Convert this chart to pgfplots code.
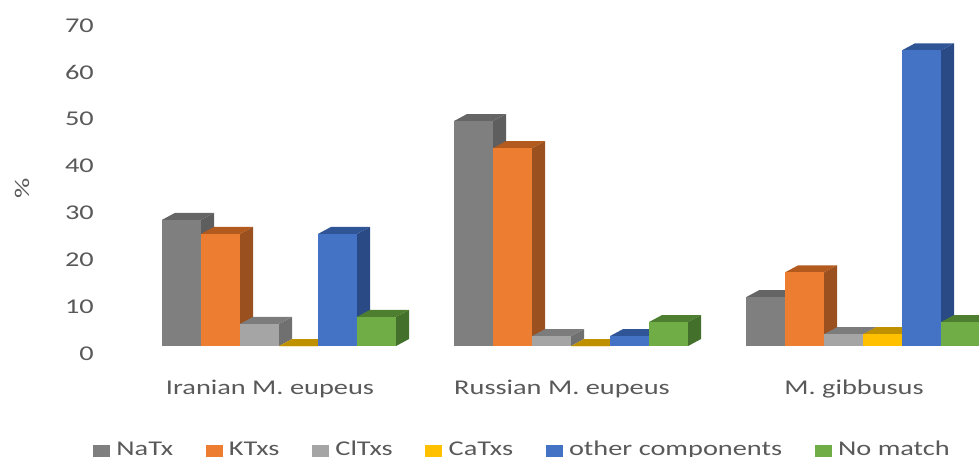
\documentclass[border=0pt]{standalone}
\usepackage{fontspec}
\setmainfont[FakeStretch=1.35]{Carlito}
\usepackage{pgfplots}
\pgfplotsset{compat=1.18}

\definecolor{txt}{HTML}{595959}
\definecolor{grayF}{HTML}{7F7F7F}\definecolor{grayS}{HTML}{5E5E5E}\definecolor{grayT}{HTML}{656565}
\definecolor{oranF}{HTML}{ED7D31}\definecolor{oranS}{HTML}{9A501F}\definecolor{oranT}{HTML}{B35A1F}
\definecolor{ltF}{HTML}{A5A5A5}\definecolor{ltS}{HTML}{707070}\definecolor{ltT}{HTML}{7C7C7C}
\definecolor{goldF}{HTML}{FFC000}\definecolor{goldS}{HTML}{A67C00}\definecolor{goldT}{HTML}{BF9000}
\definecolor{blueF}{HTML}{4472C4}\definecolor{blueS}{HTML}{2A4A85}\definecolor{blueT}{HTML}{2F5597}
\definecolor{grnF}{HTML}{70AD47}\definecolor{grnS}{HTML}{43702A}\definecolor{grnT}{HTML}{4E7F30}

% base of the bars sits a little above the 0 label, depth is the fake 3d offset
\def\base{1.28}
\def\barw{0.13356}
\def\dx{0.0445}
\def\dy{1.49}

% #1 group, #2 position in group, #3 value, #4 colour prefix
\newcommand{\onebar}[4]{%
  \pgfmathsetmacro\xa{#1+(#2-3)*\barw}%
  \pgfmathsetmacro\xb{\xa+\barw}%
  \pgfmathsetmacro\xc{\xb+\dx}%
  \pgfmathsetmacro\xd{\xa+\dx}%
  \pgfmathsetmacro\yt{max(#3,\base)}%
  \pgfmathsetmacro\yu{\yt+\dy}%
  \pgfmathsetmacro\yv{\base+\dy}%
  \addplot[fill=#4S,draw=none,forget plot] coordinates {(\xb,\base)(\xc,\yv)(\xc,\yu)(\xb,\yt)};
  \addplot[fill=#4T,draw=none,forget plot] coordinates {(\xa,\yt)(\xb,\yt)(\xc,\yu)(\xd,\yu)};
  \addplot[fill=#4F,draw=none,forget plot] coordinates {(\xa,\base)(\xb,\base)(\xb,\yt)(\xa,\yt)};
}
% #1 position, #2 colour prefix, #3-#5 values for the three groups
\newcommand{\series}[5]{%
  \onebar{0}{#1}{#3}{#2}%
  \onebar{1}{#1}{#4}{#2}%
  \onebar{2}{#1}{#5}{#2}%
}

\begin{document}
\begin{tikzpicture}
\path[use as bounding box,clip] (0,0) rectangle (979pt,456pt);
\begin{axis}[
    at={(100pt,104pt)}, anchor=south west,
    scale only axis,
    width=879pt, height=328pt,
    xmin=-0.613, xmax=2.397,
    ymin=0, ymax=70,
    axis line style={draw=none},
    tick style={draw=none},
    clip=true,
    ytick={0,10,...,70},
    xtick={0,1,2},
    xticklabels={Iranian M. eupeus,Russian M. eupeus,M. gibbusus},
    /pgf/number format/assume math mode=true,
    tick label style={font=\fontsize{21}{25}\selectfont,text=txt},
    y tick label style={anchor=east,inner sep=0pt,xshift=-6pt,yshift=-1.5pt},
    x tick label style={anchor=center,xshift=-9pt,yshift=-37pt},
    ylabel={\%},
    ylabel style={at={(axis description cs:-0.0887,0.5)},anchor=center,rotate=0,font=\fontsize{21}{25}\selectfont,text=txt},
    legend columns=6,
    legend style={
        at={(axis description cs:0.4805,-0.296)},anchor=center,
        draw=none,fill=none,inner sep=0pt,
        font=\fontsize{21}{25}\selectfont,text=txt,
        /tikz/every even column/.append style={column sep=30.5pt},
        /tikz/every odd column/.append style={column sep=5pt},
    },
    legend cell align=left,
    legend image code/.code={\fill[#1] (0pt,-8pt) rectangle (16pt,4pt);},
]
%            pos colour NaTx etc: Iranian, Russian, gibbusus
\series{0}{gray}{28.2}{49.3}{11.7}
\series{1}{oran}{25.2}{43.5}{17.0}
\series{2}{lt}{6.0}{3.4}{3.8}
\series{3}{gold}{0}{0}{3.8}
\series{4}{blue}{25.2}{3.4}{64.4}
\series{5}{grn}{7.5}{6.4}{6.4}

\addlegendimage{grayF}\addlegendentry{NaTx}
\addlegendimage{oranF}\addlegendentry{KTxs}
\addlegendimage{ltF}\addlegendentry{ClTxs}
\addlegendimage{goldF}\addlegendentry{CaTxs}
\addlegendimage{blueF}\addlegendentry{other components}
\addlegendimage{grnF}\addlegendentry{No match}
\end{axis}
\end{tikzpicture}
\end{document}
